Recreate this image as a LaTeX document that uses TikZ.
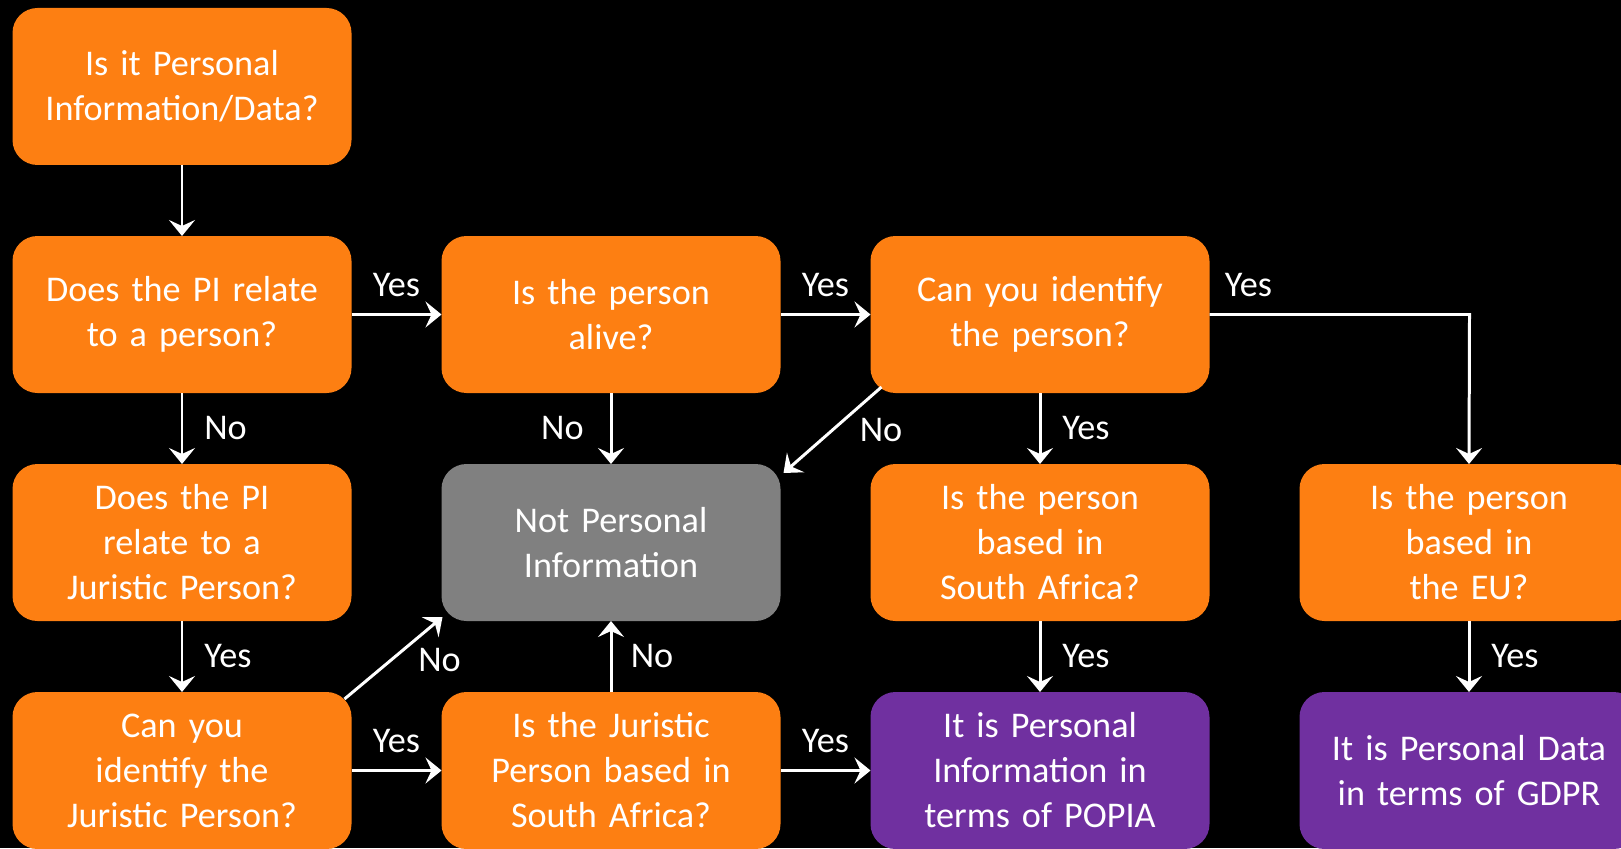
\documentclass[tikz,border=0pt]{standalone}
\usepackage{fontspec}
\setmainfont{Carlito}
\usepackage{xcolor}
\usetikzlibrary{arrows.meta,positioning}

\definecolor{boxorange}{RGB}{253,127,18}
\definecolor{boxpurple}{RGB}{112,48,160}
\definecolor{boxgray}{RGB}{128,128,128}

\begin{document}
\begin{tikzpicture}[->,>={Stealth[length=0.32cm,width=0.52cm,inset=0.12cm]},white,line width=1.7pt,
    node distance=1.42cm and 1.8cm,font=\fontsize{20.6}{25.6}\selectfont]
  \tikzstyle{question} = [rectangle,rounded corners=0.5cm,fill=boxorange,minimum width=6.78cm,
    minimum height=3.14cm,text width=6.3cm,align=center,inner sep=0pt,outer sep=0pt]
  \tikzstyle{answer} = [question,fill=boxpurple]
  \tikzstyle{notpi} = [question,fill=boxgray]

  \fill[black] (0,0) rectangle (32.42,16.96);
  \clip (0,0) rectangle (32.42,16.96);
  \useasboundingbox (0,0) rectangle (32.42,16.96);

  \node[question] 	(A) at (3.64,15.23) 	{Is it Personal\\Information/Data?};
  \node[question] 	(B) [below=of A] 	{Does the PI relate\\to a person?};
  \node[question] 	(C) [right=of B] 	{Is the person\\alive?};
  \node[question] 	(D) [right=of C] 	{Can you identify\\the person?};
  \node[question] 	(E) [below=of B] 	{Does the PI\\relate to a\\Juristic Person?};
  \node[notpi] 		(F) [below=of C] 	{Not Personal\\Information};
  \node[question] 	(G) [below=of D] 	{Is the person\\based in\\South Africa?};
  \node[question] 	(H) [right=of G] 	{Is the person\\based in\\the EU?};
  \node[question] 	(I) [below=of E] 	{Can you\\identify the\\Juristic Person?};
  \node[question] 	(J) [below=of F] 	{Is the Juristic\\Person based in\\South Africa?};
  \node[answer] 	(K) [below=of G] 	{It is Personal\\Information in\\terms of POPIA};
  \node[answer] 	(L) [below=of H] 	{It is Personal Data\\in terms of GDPR};

  \path 	(A) edge (B);
  \path 	(B) edge node[above=0.2cm] {Yes} (C);
  \path 	(C) edge node[above=0.2cm] {Yes} (D);
  \path 	(B) edge node[right=0.3cm] {No} (E);
  \path 	(C) edge node[left=0.4cm] {No} (F);
  \path 	(D) edge node[right=0.3cm] {Yes} (G);
  \path 	(E) edge node[right=0.3cm] {Yes} (I);
  \path 	(I) edge node[above=0.2cm] {Yes} (J);
  \path 	(J) edge node[right=0.25cm] {No} (F);
  \path 	(J) edge node[above=0.2cm] {Yes} (K);
  \path 	(G) edge node[right=0.3cm] {Yes} (K);
  \path 	(H) edge node[right=0.3cm] {Yes} (L);

  \draw 	(D.east) -- node[above=0.2cm,pos=0.15] {Yes} ++(5.2,0) -- (H.north);
  \draw 	([shift={(0.22,0.12)}]D.south west) -- node[right=0.4cm] {No} ([shift={(0.06,-0.18)}]F.north east);
  \draw 	([shift={(-0.14,-0.14)}]I.north east) -- node[right=0.35cm,yshift=-0.05cm] {No} ([shift={(0.02,0.08)}]F.south west);
\end{tikzpicture}
\end{document}
